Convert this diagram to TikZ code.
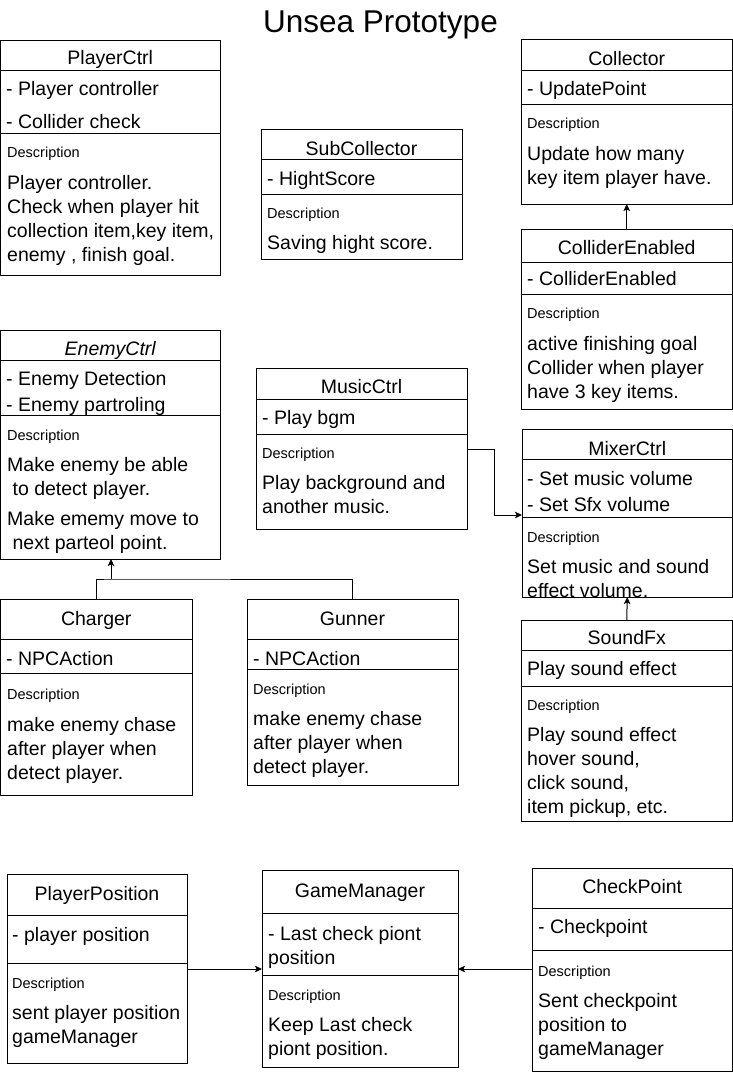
\documentclass[tikz,border=0pt]{standalone}
\usepackage{fontspec}
\setmainfont{Liberation Sans}
\usetikzlibrary{arrows.meta}
\newcommand{\mainf}{\fontsize{19.5}{24}\selectfont}
\newcommand{\descf}{\fontsize{14.5}{17}\selectfont}
\tikzset{
  box/.style={draw=black, line width=1pt, rectangle, inner sep=0pt, outer sep=0pt, fill=white},
  sepline/.style={draw=black, line width=1pt},
  ttlsty/.style={anchor=base, inner sep=0pt, font=\mainf},
  txt/.style={anchor=base west, inner sep=0pt, font=\mainf},
  dlabel/.style={anchor=base west, inner sep=0pt, font=\descf},
  conn/.style={draw=black, line width=1pt},
  arr/.style={conn, -{Stealth[length=7pt,width=6.5pt,inset=1.5pt]}},
}
% name, x1, y1, x2, y2, sep1, sep2
\newcommand{\clsbox}[7]{%
  \node[box, minimum width={#4-#2}, minimum height={#5-#3}] (#1) at ({(#2+#4)/2},{(#3+#5)/2}) {};
  \draw[sepline] (#2,#6) -- (#4,#6);
  \draw[sepline] (#2,#7) -- (#4,#7);
}
% name, baseline, title
\newcommand{\clsttl}[3]{\node[ttlsty] (#1-t) at (#1.north |- 0,#2) {#3};}
% name, x, baseline, text list
\newcommand{\clslines}[4]{%
  \foreach \t [count=\i from 0] in {#4} {\node[txt] (#1-l\i) at (#2,{#3+24*\i}) {\t};}
}
\newcommand{\clsdesc}[3]{\node[dlabel] (#1-d) at (#2,#3) {Description};}
\begin{document}
\begin{tikzpicture}[x=1pt,y=-1pt]
\useasboundingbox (0,0) rectangle (733,1074);
\node[anchor=base, inner sep=0pt, font=\fontsize{31.5}{36}\selectfont] (title) at (380.5,32) {Unsea Prototype};

% PlayerCtrl
\clsbox{pc}{0.5}{40}{220}{275}{70}{133}
\clsttl{pc}{64}{PlayerCtrl}
\node[txt] (pc-a1) at (6,95) {- Player controller};
\node[txt] (pc-a2) at (6,128) {- Collider check};
\clsdesc{pc}{7}{157}
\clslines{pc}{7}{189}{Player controller., Check when player hit, {collection item,key item,}, {enemy , finish goal.}}

% SubCollector
\clsbox{sub}{261}{129}{462}{259}{159}{194}
\clsttl{sub}{155}{SubCollector}
\node[txt] (sub-a1) at (267,185) {- HightScore};
\clsdesc{sub}{267}{218}
\clslines{sub}{267}{249}{Saving hight score.}

% Collector
\clsbox{col}{521}{39}{732.5}{204}{70}{104}
\clsttl{col}{65}{Collector}
\node[txt] (col-a1) at (527,95) {- UpdatePoint};
\clsdesc{col}{527}{128}
\clslines{col}{527}{160}{Update how many, key item player have.}

% ColliderEnabled
\clsbox{ce}{521}{229}{732.5}{409}{262}{294}
\clsttl{ce}{254}{ColliderEnabled}
\node[txt] (ce-a1) at (527,285) {- ColliderEnabled};
\clsdesc{ce}{527}{318}
\clslines{ce}{527}{350}{active finishing goal, Collider when player, have 3 key items.}

% EnemyCtrl
\clsbox{ec}{0.5}{330}{220}{559}{360}{415}
\clsttl{ec}{355}{\itshape EnemyCtrl}
\node[txt] (ec-a1) at (6,385) {- Enemy Detection};
\node[txt] (ec-a2) at (6,411) {- Enemy partroling};
\clsdesc{ec}{7}{440}
\node[txt] (ec-l0) at (7,471) {Make enemy be able};
\node[txt] (ec-l1) at (7,495) {\hspace*{5.4pt}to detect player.};
\node[txt] (ec-l2) at (7,525) {Make ememy move to};
\node[txt] (ec-l3) at (7,549) {\hspace*{5.4pt}next parteol point.};

% MusicCtrl
\clsbox{mus}{256}{368}{467}{529}{399}{434}
\clsttl{mus}{393}{MusicCtrl}
\node[txt] (mus-a1) at (262,424) {- Play bgm};
\clsdesc{mus}{262}{458}
\clslines{mus}{262}{489}{Play background and, another music.}

% MixerCtrl
\clsbox{mix}{522}{429}{732.5}{597}{459}{517}
\clsttl{mix}{455}{MixerCtrl}
\node[txt] (mix-a1) at (527,485) {- Set music volume};
\node[txt] (mix-a2) at (527,511) {- Set Sfx volume};
\clsdesc{mix}{527}{542}
\clslines{mix}{527}{573}{Set music and sound, effect volume.}

% Charger
\clsbox{ch}{0.5}{599}{192}{795}{639}{673}
\clsttl{ch}{625}{Charger}
\node[txt] (ch-a1) at (6,665) {- NPCAction};
\clsdesc{ch}{7}{699}
\clslines{ch}{7}{731}{make enemy chase, after player when, detect player.}

% Gunner
\clsbox{gun}{247}{599}{458}{785}{639}{669}
\clsttl{gun}{625}{Gunner}
\node[txt] (gun-a1) at (253,665) {- NPCAction};
\clsdesc{gun}{253}{694}
\clslines{gun}{253}{725}{make enemy chase, after player when, detect player.}

% SoundFx
\clsbox{sfx}{521}{620}{732.5}{821}{650}{686}
\clsttl{sfx}{644}{SoundFx}
\node[txt] (sfx-a1) at (527,675) {Play sound effect};
\clsdesc{sfx}{527}{710}
\clslines{sfx}{527}{741}{Play sound effect, {hover sound,}, {click sound,}, {item pickup, etc.}}

% PlayerPosition
\clsbox{pp}{7}{874}{187}{1063}{915}{963}
\clsttl{pp}{900}{PlayerPosition}
\node[txt] (pp-a1) at (12,941) {- player position};
\clsdesc{pp}{12}{988}
\clslines{pp}{12}{1019}{sent player position, gameManager}

% GameManager
\clsbox{gm}{262}{870}{458}{1067}{913}{975}
\clsttl{gm}{897}{GameManager}
\clslines{gm}{268}{940}{- Last check piont, position}
\clsdesc{gm}{268}{1000}
\clslines{gm-x}{268}{1031}{Keep Last check, piont position.}

% CheckPoint
\clsbox{cp}{532}{868}{732.5}{1071}{908}{950}
\clsttl{cp}{893}{CheckPoint}
\node[txt] (cp-a1) at (538,933) {- Checkpoint};
\clsdesc{cp}{538}{976}
\clslines{cp}{538}{1007}{Sent checkpoint, position to, gameManager}

% connectors
\draw[arr] (ce.north) -- (col.south);
\draw[arr] (sfx.north) -- (mix.south);
\coordinate (mbend) at (494,449);
\draw[arr] (mus.east |- mbend) -- (mbend) |- (mix.west |- 0,515);
\coordinate (inh) at (111,579);
\draw[conn] (ch.north) |- (inh) -| (gun.north);
\draw[arr] (inh) -- (ec.south -| inh);
\coordinate (prow) at (0,969);
\draw[arr] (pp.east |- prow) -- (gm.west |- prow);
\draw[arr] (cp.west |- prow) -- (gm.east |- prow);
\end{tikzpicture}
\end{document}
